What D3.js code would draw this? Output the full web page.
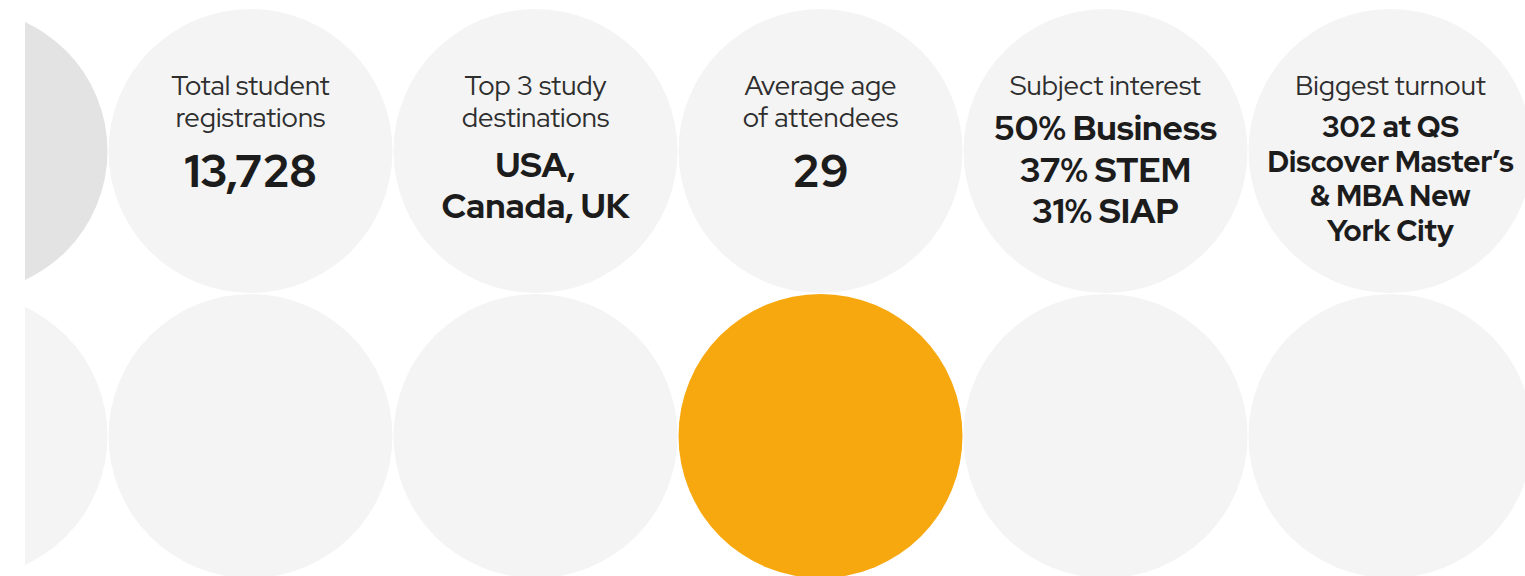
<!DOCTYPE html>
<html>
<head>
<meta charset="utf-8">
<script src="https://cdn.jsdelivr.net/npm/d3@7"></script>
<style>
  html, body { margin: 0; padding: 0; background: #ffffff; }
  svg { display: block; }
  text { font-family: "Red Hat Display", "Inter", "Noto Sans", sans-serif; }
</style>
</head>
<body>
<svg id="chart" width="1525" height="576"></svg>
<script>
// ---- data ----
const categories = ["Total student registrations", "Top 3 study destinations", "Average age of attendees", "Subject interest", "Biggest turnout"];
const titleLines = [
  ["Total student", "registrations"],
  ["Top 3 study", "destinations"],
  ["Average age", "of attendees"],
  ["Subject interest"],
  ["Biggest turnout"]
];
const valueLines = [
  ["13,728"],
  ["USA,", "Canada, UK"],
  ["29"],
  ["50% Business", "37% STEM", "31% SIAP"],
  ["302 at QS", "Discover Master’s", "& MBA New", "York City"]
];
// grid: column -1 is the partial decorative column at the left edge
const columns = [-1, 0, 1, 2, 3, 4];
const rows = [0, 1];
const highlight = { row: 1, col: 2 };

// ---- layout / style ----
const W = 1525, H = 576;
const R = 142;
const x = d3.scaleLinear().domain([0, 4]).range([250.5, 1390.5]);
const y = d3.scaleLinear().domain([0, 1]).range([151, 436]);
const valueStyle = [
  { size: 45, lh: 41, base: 187 },
  { size: 34.3, lh: 41, base: 177 },
  { size: 45, lh: 41, base: 187 },
  { size: 34.5, lh: 41.5, base: 140 },
  { size: 29.3, lh: 34.5, base: 137 }
];

const svg = d3.select("#chart");
svg.append("defs").append("clipPath").attr("id", "clip")
  .append("rect").attr("x", 25).attr("y", 0).attr("width", W - 25).attr("height", H);

const g = svg.append("g").attr("clip-path", "url(#clip)");

const cells = [];
rows.forEach(r => columns.forEach(c => cells.push({ r, c })));

g.selectAll("circle").data(cells).join("circle")
  .attr("cx", d => x(d.c))
  .attr("cy", d => y(d.r))
  .attr("r", R)
  .attr("fill", d => {
    if (d.r === highlight.row && d.c === highlight.col) return "#f7a80f";
    if (d.c === -1 && d.r === 0) return "#e3e3e3";
    return "#f4f4f4";
  });

// ---- text ----
const tg = svg.append("g");
categories.forEach((cat, i) => {
  const cx = x(i);
  const t = tg.append("text").attr("text-anchor", "middle")
    .attr("fill", "#2e2e2e").attr("font-size", 27.5).attr("font-weight", 400);
  titleLines[i].forEach((ln, k) => {
    t.append("tspan").attr("x", cx).attr("y", 94.5 + k * 32).text(ln);
  });
  const s = valueStyle[i];
  const v = tg.append("text").attr("text-anchor", "middle")
    .attr("fill", "#1c1c1c").attr("font-size", s.size).attr("font-weight", 800);
  valueLines[i].forEach((ln, k) => {
    v.append("tspan").attr("x", cx).attr("y", s.base + k * s.lh).text(ln);
  });
});
</script>
</body>
</html>
